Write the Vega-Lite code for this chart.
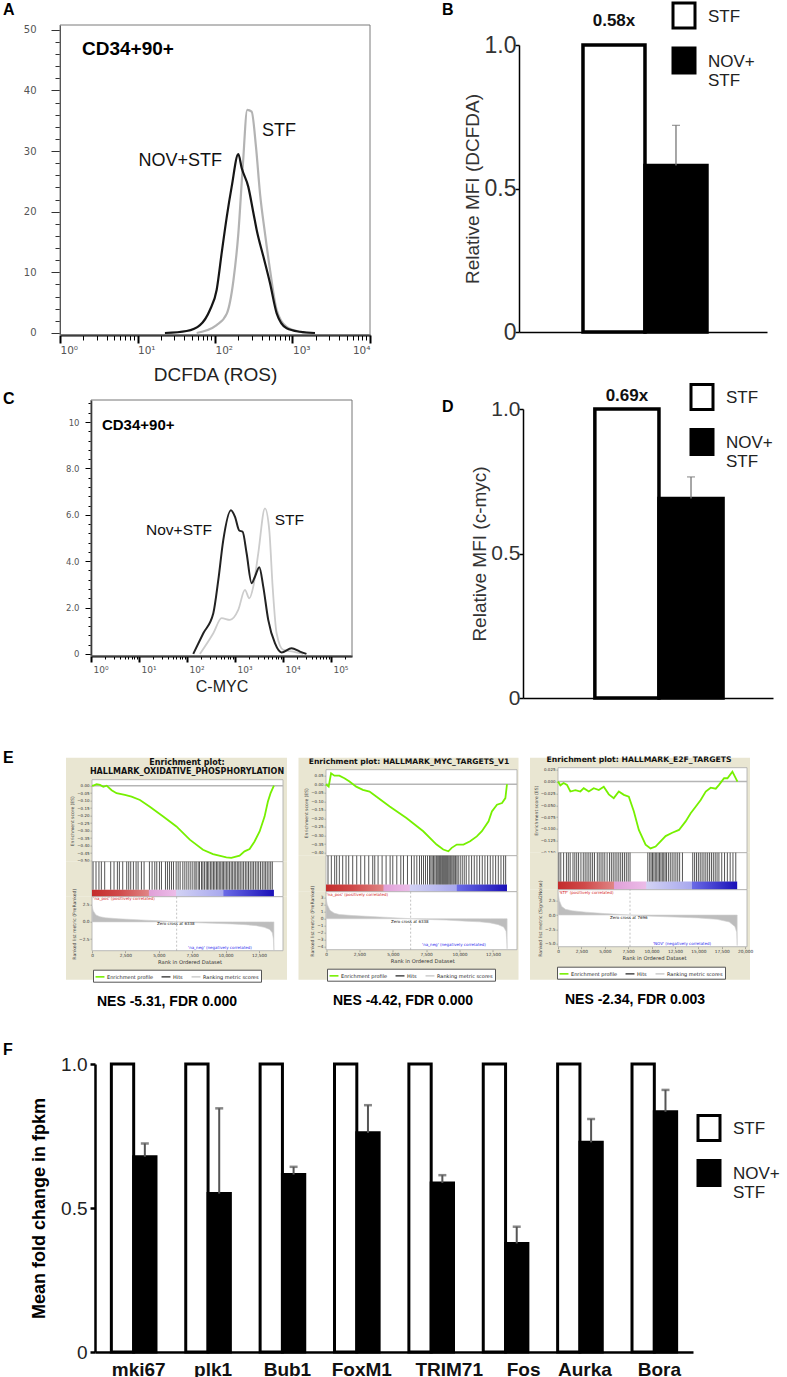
{
"$schema": "https://vega.github.io/schema/vega-lite/v6.json",
"padding": {"left": 3, "top": 0, "right": 0, "bottom": 0},
"background": "white",
"config": {
  "view": {"stroke": null},
  "font": "Liberation Sans",
  "axis": {"grid": false, "labelFont": "Liberation Sans", "titleFont": "Liberation Sans", "titleFontWeight": "normal", "domainColor": "#000", "tickColor": "#000", "labelColor": "#333", "titleColor": "#222", "labelOverlap": false},
  "title": {"font": "Liberation Sans", "fontWeight": "bold", "fontSize": 16, "color": "#000", "anchor": "start", "frame": "group", "baseline": "alphabetic"},
  "legend": {"labelFont": "Liberation Sans"}
},
"datasets": {
  "flowA": [
    {"sample":"NOV+STF","intensity":22.6,"count":0},{"sample":"NOV+STF","intensity":43,"count":0.33},{"sample":"NOV+STF","intensity":64,"count":1.3},{"sample":"NOV+STF","intensity":86,"count":3.8},{"sample":"NOV+STF","intensity":105,"count":7.1},{"sample":"NOV+STF","intensity":122,"count":13.2},{"sample":"NOV+STF","intensity":142,"count":19.2},{"sample":"NOV+STF","intensity":164,"count":24.1},{"sample":"NOV+STF","intensity":200,"count":29.5},{"sample":"NOV+STF","intensity":221,"count":27.2},{"sample":"NOV+STF","intensity":269,"count":24.1},{"sample":"NOV+STF","intensity":313,"count":19.8},{"sample":"NOV+STF","intensity":345,"count":17.0},{"sample":"NOV+STF","intensity":421,"count":12.6},{"sample":"NOV+STF","intensity":513,"count":8.2},{"sample":"NOV+STF","intensity":625,"count":3.25},{"sample":"NOV+STF","intensity":841,"count":0.77},{"sample":"NOV+STF","intensity":1250,"count":0.2},{"sample":"NOV+STF","intensity":1950,"count":0},
    {"sample":"STF","intensity":58,"count":0},{"sample":"STF","intensity":105,"count":1.3},{"sample":"STF","intensity":142,"count":3.2},{"sample":"STF","intensity":173,"count":8.7},{"sample":"STF","intensity":200,"count":16.4},{"sample":"STF","intensity":228,"count":27.4},{"sample":"STF","intensity":261,"count":36.8},{"sample":"STF","intensity":297,"count":36.5},{"sample":"STF","intensity":338,"count":30.7},{"sample":"STF","intensity":381,"count":23},{"sample":"STF","intensity":442,"count":16.4},{"sample":"STF","intensity":513,"count":10.4},{"sample":"STF","intensity":625,"count":3.8},{"sample":"STF","intensity":841,"count":1.0},{"sample":"STF","intensity":1250,"count":0.2},{"sample":"STF","intensity":1860,"count":0}
  ],
  "flowC": [
    {"sample":"NOV+STF","intensity":135,"count":0},{"sample":"NOV+STF","intensity":219,"count":0.89},{"sample":"NOV+STF","intensity":354,"count":1.75},{"sample":"NOV+STF","intensity":450,"count":3.19},{"sample":"NOV+STF","intensity":571,"count":4.91},{"sample":"NOV+STF","intensity":826,"count":6.2},{"sample":"NOV+STF","intensity":1000,"count":5.92},{"sample":"NOV+STF","intensity":1230,"count":5.32},{"sample":"NOV+STF","intensity":1445,"count":5.27},{"sample":"NOV+STF","intensity":1750,"count":4.34},{"sample":"NOV+STF","intensity":2225,"count":3.05},{"sample":"NOV+STF","intensity":2610,"count":3.33},{"sample":"NOV+STF","intensity":3215,"count":3.74},{"sample":"NOV+STF","intensity":3890,"count":2.9},{"sample":"NOV+STF","intensity":4940,"count":1.47},{"sample":"NOV+STF","intensity":6810,"count":0.46},{"sample":"NOV+STF","intensity":9380,"count":0.06},{"sample":"NOV+STF","intensity":15140,"count":0.24},{"sample":"NOV+STF","intensity":22600,"count":0.1},{"sample":"NOV+STF","intensity":30900,"count":0},
    {"sample":"STF","intensity":186,"count":0},{"sample":"STF","intensity":354,"count":0.89},{"sample":"STF","intensity":527,"count":1.54},{"sample":"STF","intensity":787,"count":1.47},{"sample":"STF","intensity":1172,"count":1.9},{"sample":"STF","intensity":1615,"count":2.76},{"sample":"STF","intensity":1990,"count":2.4},{"sample":"STF","intensity":2410,"count":2.9},{"sample":"STF","intensity":3060,"count":4.34},{"sample":"STF","intensity":4220,"count":6.28},{"sample":"STF","intensity":5190,"count":5.34},{"sample":"STF","intensity":6100,"count":2.9},{"sample":"STF","intensity":7380,"count":0.89},{"sample":"STF","intensity":10160,"count":0.17},{"sample":"STF","intensity":16400,"count":0.1},{"sample":"STF","intensity":26500,"count":0}
  ],
  "mfiB": [{"treatment":"STF","mfi":1,"fold":"0.58x"},{"treatment":"NOV+STF","mfi":0.58,"upper":0.72}],
  "mfiD": [{"treatment":"STF","mfi":1,"fold":"0.69x"},{"treatment":"NOV+STF","mfi":0.69,"upper":0.765}],
  "fpkm": [
    {"gene":"mki67","treatment":"STF","value":1},{"gene":"mki67","treatment":"NOV+STF","value":0.678,"upper":0.724},
    {"gene":"plk1","treatment":"STF","value":1},{"gene":"plk1","treatment":"NOV+STF","value":0.55,"upper":0.846},
    {"gene":"Bub1","treatment":"STF","value":1},{"gene":"Bub1","treatment":"NOV+STF","value":0.616,"upper":0.643},
    {"gene":"FoxM1","treatment":"STF","value":1},{"gene":"FoxM1","treatment":"NOV+STF","value":0.761,"upper":0.857},
    {"gene":"TRIM71","treatment":"STF","value":1},{"gene":"TRIM71","treatment":"NOV+STF","value":0.587,"upper":0.614},
    {"gene":"Fos","treatment":"STF","value":1},{"gene":"Fos","treatment":"NOV+STF","value":0.377,"upper":0.435},
    {"gene":"Aurka","treatment":"STF","value":1},{"gene":"Aurka","treatment":"NOV+STF","value":0.728,"upper":0.809},
    {"gene":"Bora","treatment":"STF","value":1},{"gene":"Bora","treatment":"NOV+STF","value":0.834,"upper":0.91}
  ],
  "es1": [{"rank":0,"es":0},{"rank":100,"es":0},{"rank":350,"es":0.01},{"rank":600,"es":0.005},{"rank":850,"es":-0.007},{"rank":1100,"es":0},{"rank":1470,"es":-0.03},{"rank":1840,"es":-0.05},{"rank":2460,"es":-0.062},{"rank":2960,"es":-0.073},{"rank":3590,"es":-0.095},{"rank":4330,"es":-0.14},{"rank":5330,"es":-0.205},{"rank":6320,"es":-0.272},{"rank":7320,"es":-0.36},{"rank":8310,"es":-0.427},{"rank":9060,"es":-0.456},{"rank":10060,"es":-0.478},{"rank":10430,"es":-0.482},{"rank":11050,"es":-0.467},{"rank":11420,"es":-0.438},{"rank":11800,"es":-0.423},{"rank":12170,"es":-0.372},{"rank":12550,"es":-0.305},{"rank":12920,"es":-0.206},{"rank":13170,"es":-0.106},{"rank":13370,"es":-0.05},{"rank":13620,"es":0}],
  "es2": [{"rank":0,"es":0},{"rank":200,"es":-0.014},{"rank":380,"es":0.064},{"rank":630,"es":0.05},{"rank":1000,"es":0.05},{"rank":1380,"es":0.035},{"rank":1760,"es":0.016},{"rank":2260,"es":-0.014},{"rank":2760,"es":-0.033},{"rank":3260,"es":-0.043},{"rank":3760,"es":-0.072},{"rank":4770,"es":-0.13},{"rank":6020,"es":-0.198},{"rank":7280,"es":-0.275},{"rank":8280,"es":-0.353},{"rank":8780,"es":-0.382},{"rank":9160,"es":-0.392},{"rank":9410,"es":-0.372},{"rank":9790,"es":-0.353},{"rank":10290,"es":-0.353},{"rank":10790,"es":-0.334},{"rank":11290,"es":-0.305},{"rank":11670,"es":-0.275},{"rank":12170,"es":-0.217},{"rank":12420,"es":-0.159},{"rank":12800,"es":-0.12},{"rank":13180,"es":-0.11},{"rank":13430,"es":-0.081},{"rank":13550,"es":0}],
  "es3": [{"rank":0,"es":0},{"rank":250,"es":-0.008},{"rank":600,"es":-0.003},{"rank":960,"es":-0.007},{"rank":1320,"es":-0.021},{"rank":1860,"es":-0.018},{"rank":2390,"es":-0.021},{"rank":2750,"es":-0.014},{"rank":3290,"es":-0.021},{"rank":3820,"es":-0.014},{"rank":4360,"es":-0.018},{"rank":4890,"es":-0.011},{"rank":5430,"es":-0.027},{"rank":5960,"es":-0.035},{"rank":6500,"es":-0.021},{"rank":7040,"es":-0.028},{"rank":7570,"es":-0.032},{"rank":8110,"es":-0.063},{"rank":8640,"es":-0.102},{"rank":9360,"es":-0.133},{"rank":9890,"es":-0.141},{"rank":10430,"es":-0.137},{"rank":10960,"es":-0.126},{"rank":11500,"es":-0.115},{"rank":12210,"es":-0.108},{"rank":12930,"es":-0.102},{"rank":13640,"es":-0.084},{"rank":14180,"es":-0.067},{"rank":14710,"es":-0.053},{"rank":15250,"es":-0.039},{"rank":15790,"es":-0.021},{"rank":16320,"es":-0.013},{"rank":16860,"es":-0.015},{"rank":17210,"es":-0.007},{"rank":17750,"es":0.007},{"rank":18110,"es":0.007},{"rank":18640,"es":0.021},{"rank":19180,"es":0}],
  "hits1": [{"rank":80},{"rank":300},{"rank":520},{"rank":700},{"rank":950},{"rank":1400},{"rank":1650},{"rank":1900},{"rank":2050},{"rank":2300},{"rank":2600},{"rank":2750},{"rank":2900},{"rank":3100},{"rank":3300},{"rank":3450},{"rank":3700},{"rank":3900},{"rank":4300},{"rank":4500},{"rank":4700},{"rank":4850},{"rank":5050},{"rank":5200},{"rank":5500},{"rank":5650},{"rank":5800},{"rank":5950},{"rank":6100},{"rank":6300},{"rank":6450},{"rank":6600},{"rank":6800},{"rank":6950},{"rank":7100},{"rank":7250},{"rank":7400},{"rank":7550},{"rank":7700},{"rank":7800},{"rank":7950},{"rank":8050},{"rank":8200},{"rank":8300},{"rank":8420},{"rank":8550},{"rank":8650},{"rank":8750},{"rank":8880},{"rank":8980},{"rank":9100},{"rank":9200},{"rank":9320},{"rank":9420},{"rank":9530},{"rank":9640},{"rank":9750},{"rank":9850},{"rank":9960},{"rank":10080},{"rank":10180},{"rank":10300},{"rank":10420},{"rank":10530},{"rank":10650},{"rank":10760},{"rank":10880},{"rank":10990},{"rank":11100},{"rank":11230},{"rank":11350},{"rank":11480},{"rank":11600},{"rank":11720},{"rank":11850},{"rank":11980},{"rank":12100},{"rank":12230},{"rank":12360},{"rank":12480},{"rank":12620},{"rank":12750},{"rank":12880},{"rank":13000},{"rank":13120},{"rank":13250},{"rank":13380},{"rank":13500}],
  "hits2": [{"rank":150},{"rank":400},{"rank":650},{"rank":800},{"rank":1000},{"rank":1250},{"rank":1500},{"rank":1700},{"rank":2000},{"rank":2300},{"rank":2600},{"rank":2900},{"rank":3200},{"rank":3500},{"rank":3650},{"rank":3900},{"rank":4200},{"rank":4500},{"rank":4800},{"rank":5000},{"rank":5300},{"rank":5600},{"rank":5800},{"rank":6100},{"rank":6400},{"rank":6600},{"rank":6800},{"rank":7000},{"rank":7150},{"rank":7300},{"rank":7450},{"rank":7600},{"rank":7750},{"rank":7850},{"rank":7950},{"rank":8050},{"rank":8150},{"rank":8250},{"rank":8320},{"rank":8400},{"rank":8480},{"rank":8550},{"rank":8620},{"rank":8700},{"rank":8770},{"rank":8840},{"rank":8910},{"rank":8980},{"rank":9050},{"rank":9120},{"rank":9200},{"rank":9280},{"rank":9350},{"rank":9430},{"rank":9520},{"rank":9600},{"rank":9700},{"rank":9800},{"rank":9900},{"rank":10050},{"rank":10200},{"rank":10350},{"rank":10500},{"rank":10700},{"rank":10900},{"rank":11100},{"rank":11300},{"rank":11500},{"rank":11700},{"rank":11900},{"rank":12100},{"rank":12300},{"rank":12500},{"rank":12700},{"rank":12900},{"rank":13100},{"rank":13300},{"rank":13450}],
  "hits3": [{"rank":100},{"rank":300},{"rank":600},{"rank":900},{"rank":1100},{"rank":1300},{"rank":1600},{"rank":1800},{"rank":2000},{"rank":2200},{"rank":2450},{"rank":2700},{"rank":2900},{"rank":3100},{"rank":3300},{"rank":3500},{"rank":3700},{"rank":3900},{"rank":4200},{"rank":4400},{"rank":4600},{"rank":4800},{"rank":5000},{"rank":5250},{"rank":5500},{"rank":5700},{"rank":5900},{"rank":6100},{"rank":6300},{"rank":6500},{"rank":6700},{"rank":6900},{"rank":7100},{"rank":7300},{"rank":7500},{"rank":7700},{"rank":9600},{"rank":9800},{"rank":9950},{"rank":10100},{"rank":10250},{"rank":10400},{"rank":10550},{"rank":10700},{"rank":10850},{"rank":11000},{"rank":11150},{"rank":11300},{"rank":11450},{"rank":11600},{"rank":11800},{"rank":12000},{"rank":12200},{"rank":12400},{"rank":12600},{"rank":12800},{"rank":13000},{"rank":13300},{"rank":14400},{"rank":14600},{"rank":14800},{"rank":15000},{"rank":15200},{"rank":15400},{"rank":15600},{"rank":15800},{"rank":16000},{"rank":16200},{"rank":16400},{"rank":16600},{"rank":16800},{"rank":17000},{"rank":17200},{"rank":17500},{"rank":17800},{"rank":18100},{"rank":18400},{"rank":18700},{"rank":19000}],
  "met1": [{"rank":0,"metric":2.3},{"rank":100,"metric":1.6},{"rank":300,"metric":1.0},{"rank":600,"metric":0.75},{"rank":1000,"metric":0.6},{"rank":2000,"metric":0.45},{"rank":3000,"metric":0.35},{"rank":4000,"metric":0.25},{"rank":5000,"metric":0.15},{"rank":6338,"metric":0},{"rank":7500,"metric":-0.1},{"rank":9000,"metric":-0.2},{"rank":10500,"metric":-0.3},{"rank":11500,"metric":-0.4},{"rank":12300,"metric":-0.55},{"rank":12900,"metric":-0.8},{"rank":13300,"metric":-1.1},{"rank":13500,"metric":-1.6},{"rank":13580,"metric":-2.5},{"rank":13620,"metric":-4.1}],
  "met2": [{"rank":0,"metric":2.9},{"rank":100,"metric":2.0},{"rank":300,"metric":1.2},{"rank":600,"metric":0.8},{"rank":1000,"metric":0.6},{"rank":2000,"metric":0.45},{"rank":3000,"metric":0.35},{"rank":4000,"metric":0.25},{"rank":5000,"metric":0.15},{"rank":6338,"metric":0},{"rank":7500,"metric":-0.1},{"rank":9000,"metric":-0.2},{"rank":10500,"metric":-0.35},{"rank":11500,"metric":-0.45},{"rank":12300,"metric":-0.6},{"rank":12900,"metric":-0.85},{"rank":13300,"metric":-1.2},{"rank":13480,"metric":-1.8},{"rank":13530,"metric":-3.0},{"rank":13560,"metric":-4.3}],
  "met3": [{"rank":0,"metric":4.0},{"rank":150,"metric":2.5},{"rank":400,"metric":1.5},{"rank":800,"metric":1.0},{"rank":1500,"metric":0.75},{"rank":3000,"metric":0.5},{"rank":5000,"metric":0.25},{"rank":7696,"metric":0},{"rank":10000,"metric":-0.2},{"rank":12500,"metric":-0.35},{"rank":15000,"metric":-0.5},{"rank":17000,"metric":-0.75},{"rank":18300,"metric":-1.2},{"rank":18900,"metric":-2.0},{"rank":19100,"metric":-3.0},{"rank":19150,"metric":-5.3}],
  "ann1": [{"rank":100,"metric":3.3,"label":"'na_pos' (positively correlated)","side":"pos"},{"rank":4870,"metric":-0.3,"label":"Zero cross at 6338","side":"zero"},{"rank":7190,"metric":-3.8,"label":"'na_neg' (negatively correlated)","side":"neg"}],
  "ann2": [{"rank":50,"metric":3.4,"label":"'na_pos' (positively correlated)","side":"pos"},{"rank":4870,"metric":-0.43,"label":"Zero cross at 6338","side":"zero"},{"rank":7190,"metric":-3.7,"label":"'na_neg' (negatively correlated)","side":"neg"}],
  "ann3": [{"rank":100,"metric":3.9,"label":"'STF' (positively correlated)","side":"pos"},{"rank":5560,"metric":-0.47,"label":"Zero cross at 7696","side":"zero"},{"rank":10150,"metric":-5.0,"label":"'NOV' (negatively correlated)","side":"neg"}]
},
"spacing": 30,
"resolve": {"scale": {"fill": "independent", "stroke": "independent", "color": "independent"}},
"vconcat": [
 {
  "spacing": 41.7,
  "resolve": {"scale": {"fill": "independent", "stroke": "independent", "color": "independent"}},
  "vconcat": [
   {
    "spacing": 66,
    "resolve": {"scale": {"fill": "independent", "stroke": "independent", "color": "independent"}},
    "hconcat": [
     {
      "bounds": "flush", "spacing": 65,
      "vconcat": [
       {
        "width": 304, "height": 335,
        "title": {"text": "A", "dx": -63, "offset": -18},
        "data": {"name": "flowA"},
        "layer": [
         {
          "transform": [{"filter": "datum.sample == 'STF'"}],
          "mark": {"type": "line", "interpolate": "monotone", "color": "#b3b3b3", "strokeWidth": 2.2},
          "encoding": {
           "x": {"field": "intensity", "type": "quantitative", "scale": {"type": "log", "domain": [1, 10000], "range": [-6, 304], "nice": false},
                 "axis": {"values": [1,2,3,4,5,6,7,8,9,10,20,30,40,50,60,70,80,90,100,200,300,400,500,600,700,800,900,1000,2000,3000,4000,5000,6000,7000,8000,9000,10000], "tickCount": 200,
                          "labelExpr": "datum.value == 1 ? '10⁰' : datum.value == 10 ? '10¹' : datum.value == 100 ? '10²' : datum.value == 1000 ? '10³' : datum.value == 10000 ? '10⁴' : ''",
                          "labelAlign": {"condition": {"test": "datum.value == 10000", "value": "right"}, "value": "left"},
                          "tickSize": {"condition": {"test": "indexof([1,10,100,1000,10000], datum.value) >= 0", "value": 8}, "value": 5},
                          "tickWidth": {"condition": {"test": "indexof([1,10,100,1000,10000], datum.value) >= 0", "value": 2}, "value": 1},
                          "domainWidth": 2, "labelFont": "DejaVu Sans", "labelFontSize": 10.5, "labelColor": "#555", "labelPadding": 2, "labelFlush": false, "labelOverlap": false,
                          "title": "DCFDA (ROS)", "titleFontSize": 19, "titleColor": "#222", "titlePadding": 10}},
           "y": {"field": "count", "type": "quantitative", "scale": {"domain": [-0.33, 50.8], "range": [335, 25], "nice": false, "zero": false},
                 "axis": {"values": [0,2,4,6,8,10,12,14,16,18,20,22,24,26,28,30,32,34,36,38,40,42,44,46,48,50], "tickCount": 200,
                          "offset": 6, "labelOverlap": false,
                          "labelExpr": "datum.value % 10 == 0 ? format(datum.value, 'd') : ''",
                          "tickSize": {"condition": {"test": "datum.value % 10 == 0", "value": 9}, "value": 5},
                          "tickColor": "#333", "domainColor": "#333", "labelFont": "DejaVu Sans", "labelFontSize": 10, "labelColor": "#555", "labelPadding": 15, "title": null}}
          }
         },
         {
          "transform": [{"filter": "datum.sample == 'NOV+STF'"}],
          "mark": {"type": "line", "interpolate": "monotone", "color": "#161616", "strokeWidth": 2.2},
          "encoding": {"x": {"field": "intensity", "type": "quantitative"}, "y": {"field": "count", "type": "quantitative"}}
         },
         {
          "data": {"values": [{}]},
          "mark": {"type": "rect", "filled": false, "color": "#7a7a7a", "strokeWidth": 1},
          "encoding": {"x": {"datum": 1, "type": "quantitative"}, "x2": {"datum": 10000}, "y": {"datum": -0.33, "type": "quantitative"}, "y2": {"datum": 50.8}}
         },
         {
          "data": {"values": [{"intensity": 1.92, "count": 46.9, "label": "CD34+90+"}]},
          "mark": {"type": "text", "align": "left", "baseline": "middle", "fontSize": 19, "fontWeight": "bold", "color": "#000"},
          "encoding": {"x": {"field": "intensity", "type": "quantitative"}, "y": {"field": "count", "type": "quantitative"}, "text": {"field": "label"}}
         },
         {
          "data": {"values": [{"intensity": 123, "count": 28.4, "label": "NOV+STF"}]},
          "mark": {"type": "text", "align": "right", "baseline": "middle", "fontSize": 18, "color": "#111"},
          "encoding": {"x": {"field": "intensity", "type": "quantitative"}, "y": {"field": "count", "type": "quantitative"}, "text": {"field": "label"}}
         },
         {
          "data": {"values": [{"intensity": 404, "count": 33.3, "label": "STF"}]},
          "mark": {"type": "text", "align": "left", "baseline": "middle", "fontSize": 18, "color": "#111"},
          "encoding": {"x": {"field": "intensity", "type": "quantitative"}, "y": {"field": "count", "type": "quantitative"}, "text": {"field": "label"}}
         }
        ]
       },
       {
        "width": 286, "height": 256,
        "title": {"text": "C", "dx": -63, "offset": -8},
        "data": {"name": "flowC"},
        "layer": [
         {
          "transform": [{"filter": "datum.sample == 'STF'"}],
          "mark": {"type": "line", "interpolate": "monotone", "color": "#cccccc", "strokeWidth": 1.8},
          "encoding": {
           "x": {"field": "intensity", "type": "quantitative", "scale": {"type": "log", "domain": [1, 275000], "range": [25, 286], "nice": false},
                 "axis": {"values": [1,2,3,4,5,6,7,8,9,10,20,30,40,50,60,70,80,90,100,200,300,400,500,600,700,800,900,1000,2000,3000,4000,5000,6000,7000,8000,9000,10000,20000,30000,40000,50000,60000,70000,80000,90000,100000,200000], "tickCount": 200,
                          "labelExpr": "datum.value == 1 ? '10⁰' : datum.value == 10 ? '10¹' : datum.value == 100 ? '10²' : datum.value == 1000 ? '10³' : datum.value == 10000 ? '10⁴' : datum.value == 100000 ? '10⁵' : ''",
                          "labelAlign": "left", "labelOffset": 2, "labelOverlap": false,
                          "tickSize": {"condition": {"test": "indexof([1,10,100,1000,10000,100000], datum.value) >= 0", "value": 6}, "value": 3},
                          "tickWidth": {"condition": {"test": "indexof([1,10,100,1000,10000,100000], datum.value) >= 0", "value": 2}, "value": 1},
                          "domainWidth": 2, "labelFont": "DejaVu Sans", "labelFontSize": 9, "labelColor": "#555", "labelPadding": 3, "labelFlush": false,
                          "title": "C-MYC", "titleFontSize": 16, "titleColor": "#222", "titlePadding": 4}},
           "y": {"field": "count", "type": "quantitative", "scale": {"domain": [-0.09, 10.95], "nice": false, "zero": false},
                 "axis": {"values": [0,0.4,0.8,1.2,1.6,2,2.4,2.8,3.2,3.6,4,4.4,4.8,5.2,5.6,6,6.4,6.8,7.2,7.6,8,8.4,8.8,9.2,9.6,10,10.4,10.8], "tickCount": 200,
                          "offset": -25, "labelOverlap": false,
                          "labelExpr": "datum.value == 0 ? '0' : datum.value == 10 ? '10' : (datum.value == 2 || datum.value == 4 || datum.value == 6 || datum.value == 8) ? format(datum.value, '.1f') : ''",
                          "tickSize": {"condition": {"test": "datum.value == 0 || datum.value == 2 || datum.value == 4 || datum.value == 6 || datum.value == 8 || datum.value == 10", "value": 6}, "value": 3},
                          "domainWidth": 1.5, "labelFont": "DejaVu Sans", "labelFontSize": 8.5, "labelColor": "#555", "labelPadding": 6, "title": null}}
          }
         },
         {
          "transform": [{"filter": "datum.sample == 'NOV+STF'"}],
          "mark": {"type": "line", "interpolate": "monotone", "color": "#222222", "strokeWidth": 2},
          "encoding": {"x": {"field": "intensity", "type": "quantitative"}, "y": {"field": "count", "type": "quantitative"}}
         },
         {
          "data": {"values": [{}]},
          "mark": {"type": "rect", "filled": false, "color": "#777", "strokeWidth": 1},
          "encoding": {"x": {"datum": 1, "type": "quantitative"}, "x2": {"datum": 275000}, "y": {"datum": -0.09, "type": "quantitative"}, "y2": {"datum": 10.95}}
         },
         {
          "data": {"values": [{"intensity": 1.69, "count": 9.87, "label": "CD34+90+"}]},
          "mark": {"type": "text", "align": "left", "baseline": "middle", "fontSize": 15, "fontWeight": "bold", "color": "#000"},
          "encoding": {"x": {"field": "intensity", "type": "quantitative"}, "y": {"field": "count", "type": "quantitative"}, "text": {"field": "label"}}
         },
         {
          "data": {"values": [{"intensity": 331, "count": 5.34, "label": "Nov+STF"}]},
          "mark": {"type": "text", "align": "right", "baseline": "middle", "fontSize": 15.5, "color": "#111"},
          "encoding": {"x": {"field": "intensity", "type": "quantitative"}, "y": {"field": "count", "type": "quantitative"}, "text": {"field": "label"}}
         },
         {
          "data": {"values": [{"intensity": 6761, "count": 5.78, "label": "STF"}]},
          "mark": {"type": "text", "align": "left", "baseline": "middle", "fontSize": 15.5, "color": "#111"},
          "encoding": {"x": {"field": "intensity", "type": "quantitative"}, "y": {"field": "count", "type": "quantitative"}, "text": {"field": "label"}}
         }
        ]
       }
      ]
     },
     {
      "bounds": "flush", "spacing": 68,
      "resolve": {"scale": {"fill": "independent"}},
      "vconcat": [
       {
        "width": 248, "height": 332,
        "title": {"text": "B", "dx": -77, "offset": -18},
        "data": {"name": "mfiB"},
        "layer": [
         {
          "mark": {"type": "bar", "stroke": "#000", "strokeWidth": 3.5},
          "encoding": {
           "x": {"field": "treatment", "type": "nominal", "sort": null, "scale": {"domain": ["STF","NOV+STF"], "paddingInner": 0, "paddingOuter": 1.03, "align": 0.516}, "axis": {"title": null, "labels": false, "ticks": false, "domainWidth": 1.5, "domainColor": "#000"}},
           "y": {"field": "mfi", "type": "quantitative", "scale": {"domain": [0, 1], "range": [332, 45], "nice": false},
                 "axis": {"values": [0, 0.5, 1], "tickCount": 200, "labelOverlap": false, "labelExpr": "datum.value == 0 ? '0' : format(datum.value, '.1f')", "labelFontSize": 23, "labelColor": "#333", "tickSize": 4, "tickWidth": 1.5, "domainWidth": 1.5, "labelPadding": -1, "title": "Relative MFI (DCFDA)", "titleFontSize": 19, "titleColor": "#333", "titlePadding": 2}},
           "fill": {"field": "treatment", "type": "nominal", "scale": {"domain": ["STF","NOV+STF"], "range": ["#ffffff","#000000"]},
                    "legend": {"orient": "none", "legendX": 151, "legendY": 1.5, "title": null, "direction": "vertical", "symbolType": "M-0.88,-1H0.88V1H-0.88Z", "symbolSize": 625, "symbolStrokeColor": "#000", "symbolStrokeWidth": 3, "labelFontSize": 17, "labelColor": "#222", "labelOffset": 10, "rowPadding": 7, "labelBaseline": "alphabetic", "labelExpr": "datum.label == 'NOV+STF' ? ['NOV+', '\u00a0\u00a0STF'] : datum.label", "padding": 0, "encode": {"labels": {"update": {"dy": {"value": 6}}}}}}
          }
         },
         {
          "transform": [{"filter": "datum.upper != null"}],
          "mark": {"type": "rule", "color": "#777", "strokeWidth": 1.3},
          "encoding": {"x": {"field": "treatment", "type": "nominal", "sort": null}, "y": {"field": "mfi", "type": "quantitative"}, "y2": {"field": "upper"}}
         },
         {
          "transform": [{"filter": "datum.upper != null"}],
          "mark": {"type": "tick", "color": "#777", "thickness": 1.3, "size": 8},
          "encoding": {"x": {"field": "treatment", "type": "nominal", "sort": null}, "y": {"field": "upper", "type": "quantitative"}}
         },
         {
          "transform": [{"filter": "datum.fold != null"}],
          "mark": {"type": "text", "fontWeight": "bold", "fontSize": 17, "dy": -24, "baseline": "middle", "color": "#111"},
          "encoding": {"x": {"field": "treatment", "type": "nominal", "sort": null}, "y": {"field": "mfi", "type": "quantitative"}, "text": {"field": "fold"}}
         }
        ]
       },
       {
        "width": 254, "height": 298,
        "title": {"text": "D", "dx": -77, "offset": -31.5},
        "data": {"name": "mfiD"},
        "layer": [
         {
          "mark": {"type": "bar", "stroke": "#000", "strokeWidth": 3.5},
          "encoding": {
           "x": {"field": "treatment", "type": "nominal", "sort": null, "scale": {"domain": ["STF","NOV+STF"], "range": [4, 254], "paddingInner": 0, "paddingOuter": 0.95, "align": 0.59}, "axis": {"title": null, "labels": false, "ticks": false, "domainWidth": 1.5, "domainColor": "#000"}},
           "y": {"field": "mfi", "type": "quantitative", "scale": {"domain": [0, 1], "range": [298, 9], "nice": false},
                 "axis": {"values": [0, 0.5, 1], "tickCount": 200, "labelOverlap": false, "offset": -4, "labelExpr": "datum.value == 0 ? '0' : format(datum.value, '.1f')", "labelFontSize": 21, "labelColor": "#333", "tickSize": 4, "tickWidth": 1.5, "domainWidth": 1.5, "labelPadding": -1, "title": "Relative MFI (c-myc)", "titleFontSize": 19, "titleColor": "#333", "titlePadding": 1}},
           "fill": {"field": "treatment", "type": "nominal", "scale": {"domain": ["STF","NOV+STF"], "range": ["#ffffff","#000000"]},
                    "legend": {"orient": "none", "legendX": 169, "legendY": -17, "title": null, "direction": "vertical", "symbolType": "M-0.88,-1H0.88V1H-0.88Z", "symbolSize": 625, "symbolStrokeColor": "#000", "symbolStrokeWidth": 3, "labelFontSize": 17, "labelColor": "#222", "labelOffset": 10, "rowPadding": 7, "labelBaseline": "alphabetic", "labelExpr": "datum.label == 'NOV+STF' ? ['NOV+', '\u00a0\u00a0STF'] : datum.label", "padding": 0, "encode": {"labels": {"update": {"dy": {"value": 6}}}}}}
          }
         },
         {
          "transform": [{"filter": "datum.upper != null"}],
          "mark": {"type": "rule", "color": "#777", "strokeWidth": 1.3},
          "encoding": {"x": {"field": "treatment", "type": "nominal", "sort": null}, "y": {"field": "mfi", "type": "quantitative"}, "y2": {"field": "upper"}}
         },
         {
          "transform": [{"filter": "datum.upper != null"}],
          "mark": {"type": "tick", "color": "#777", "thickness": 1.3, "size": 8},
          "encoding": {"x": {"field": "treatment", "type": "nominal", "sort": null}, "y": {"field": "upper", "type": "quantitative"}}
         },
         {
          "transform": [{"filter": "datum.fold != null"}],
          "mark": {"type": "text", "fontWeight": "bold", "fontSize": 17, "dy": -13, "baseline": "middle", "color": "#111"},
          "encoding": {"x": {"field": "treatment", "type": "nominal", "sort": null}, "y": {"field": "mfi", "type": "quantitative"}, "text": {"field": "fold"}}
         }
        ]
       }
      ]
     }
    ]
   },
   {
    "spacing": 11.5,
    "title": {"text": "E", "dx": -63, "offset": -10},
    "resolve": {"scale": {"fill": "independent", "stroke": "independent", "color": "independent"}},
    "hconcat": [
     {
      "bounds": "flush", "spacing": 0,
      "title": {"text": "NES -5.31, FDR 0.000", "orient": "bottom", "anchor": "start", "baseline": "top", "fontSize": 14, "offset": 13, "dx": 31},
      "resolve": {"scale": {"stroke": "independent", "color": "independent"}},
      "vconcat": [
       {
        "width": 221, "height": 104,
        "view": {"fill": "#e9e6d2"},
        "title": {"text": ["Enrichment plot:", "HALLMARK_OXIDATIVE_PHOSPHORYLATION"], "anchor": "middle", "font": "DejaVu Sans", "fontSize": 8, "lineHeight": 9, "offset": -18, "dx": 10.5, "color": "#111"},
        "layer": [
         {"data": {"values": [{}]}, "mark": {"type": "rect", "fill": "#ffffff", "stroke": "#aaa", "strokeWidth": 0.8},
          "encoding": {
           "x": {"datum": 0, "type": "quantitative", "scale": {"domain": [0, 14599.5], "range": [26, 221], "nice": false, "zero": false}, "axis": null},
           "x2": {"datum": 14300},
           "y": {"datum": -0.507, "type": "quantitative", "scale": {"domain": [-0.507, 0.04], "range": [104, 22], "nice": false, "zero": false},
                 "axis": {"values": [0,-0.05,-0.1,-0.15,-0.2,-0.25,-0.3,-0.35,-0.4,-0.45,-0.5], "tickCount": 200, "labelOverlap": false, "labelExpr": "format(datum.value, '.2f')", "offset": -26, "labelFont": "DejaVu Sans", "labelFontSize": 4, "labelColor": "#333", "tickSize": 2, "tickColor": "#666", "tickWidth": 0.5, "domain": false, "labelPadding": 1, "title": "Enrichment score (ES)", "titleFont": "DejaVu Sans", "titleFontSize": 4.5, "titleColor": "#444", "titlePadding": 2}},
           "y2": {"datum": 0.04}}},
         {"data": {"values": [{}]}, "mark": {"type": "rule", "color": "#b5b5b5", "strokeWidth": 1.5},
          "encoding": {"x": {"datum": 0, "type": "quantitative", "axis": null}, "x2": {"datum": 14300}, "y": {"datum": 0, "type": "quantitative"}}},
         {"data": {"name": "es1"}, "mark": {"type": "line", "color": "#76f000", "strokeWidth": 1.8},
          "encoding": {"x": {"field": "rank", "type": "quantitative", "axis": null}, "y": {"field": "es", "type": "quantitative"}}}
        ]
       },
       {
        "width": 221, "height": 35,
        "view": {"fill": "#e9e6d2"},
        "layer": [
         {"data": {"values": [{}]}, "mark": {"type": "rect", "fill": "#ffffff", "stroke": "#aaa", "strokeWidth": 0.8},
          "encoding": {
           "x": {"datum": 0, "type": "quantitative", "scale": {"domain": [0, 14599.5], "range": [26, 221], "nice": false, "zero": false}, "axis": null},
           "x2": {"datum": 14300},
           "y": {"datum": 0, "type": "quantitative", "scale": {"domain": [0, 1], "nice": false}, "axis": null},
           "y2": {"datum": 1}}},
         {"data": {"values": [{}]}, "mark": {"type": "rect", "fill": {"gradient": "linear", "x1": 0, "y1": 0, "x2": 1, "y2": 0, "stops": [{"offset": 0, "color": "#c42c2c"}, {"offset": 0.15, "color": "#d04a4a"}, {"offset": 0.31, "color": "#e08484"}, {"offset": 0.315, "color": "#e0a0d8"}, {"offset": 0.46, "color": "#ecbce8"}, {"offset": 0.465, "color": "#d2d2f4"}, {"offset": 0.72, "color": "#a8a8ee"}, {"offset": 0.725, "color": "#6a6ae6"}, {"offset": 1, "color": "#1a10b8"}]}},
          "encoding": {"x": {"datum": 0, "type": "quantitative", "axis": null}, "x2": {"datum": 13620}, "y": {"datum": 0, "type": "quantitative", "axis": null}, "y2": {"datum": 0.2}}},
         {"data": {"name": "hits1"}, "mark": {"type": "rule", "color": "#000", "strokeWidth": 0.9, "opacity": 0.75},
          "encoding": {"x": {"field": "rank", "type": "quantitative", "axis": null}, "y": {"datum": 0.2, "type": "quantitative", "axis": null}, "y2": {"datum": 1}}}
        ]
       },
       {
        "width": 221, "height": 83,
        "view": {"fill": "#e9e6d2"},
        "layer": [
         {"data": {"values": [{}]}, "mark": {"type": "rect", "fill": "#ffffff", "stroke": "#aaa", "strokeWidth": 0.8},
          "encoding": {
           "x": {"datum": 0, "type": "quantitative", "scale": {"domain": [0, 14599.5], "range": [26, 221], "nice": false, "zero": false},
                 "axis": {"values": [0,2500,5000,7500,10000,12500], "tickCount": 200, "labelOverlap": false, "labelExpr": "format(datum.value, ',')", "offset": -29, "labelFont": "DejaVu Sans", "labelFontSize": 4.3, "labelColor": "#333", "tickSize": 2, "tickColor": "#666", "tickWidth": 0.5, "domain": false, "labelPadding": 1, "labelFlush": false, "title": "Rank in Ordered Dataset", "titleFont": "DejaVu Sans", "titleFontSize": 5.2, "titleColor": "#333", "titlePadding": 1.5}},
           "x2": {"datum": 14300},
           "y": {"datum": -4.2, "type": "quantitative", "scale": {"domain": [-8.426, 3.67], "nice": false, "zero": false},
                 "axis": {"values": [2.5, 0, -2.5], "tickCount": 200, "labelOverlap": false, "labelExpr": "format(datum.value, '.1f')", "offset": -26, "labelFont": "DejaVu Sans", "labelFontSize": 4.3, "labelColor": "#333", "tickSize": 2, "tickColor": "#666", "tickWidth": 0.5, "domain": false, "labelPadding": 1, "title": "Ranked list metric (PreRanked)", "titleY": 27, "titleFont": "DejaVu Sans", "titleFontSize": 4.6, "titleColor": "#444", "titlePadding": 2}},
           "y2": {"datum": 3.67}}},
         {"data": {"values": [{}]}, "mark": {"type": "rule", "color": "#999", "strokeWidth": 0.6, "strokeDash": [2, 2]},
          "encoding": {"x": {"datum": 6338, "type": "quantitative"}, "y": {"datum": -4.2, "type": "quantitative"}, "y2": {"datum": 3.67}}},
         {"data": {"name": "met1"}, "mark": {"type": "area", "fill": "#bdbdbd", "strokeWidth": 0.6},
          "encoding": {"x": {"field": "rank", "type": "quantitative"}, "y": {"field": "metric", "type": "quantitative"},
           "stroke": {"datum": "Ranking metric scores", "type": "nominal", "scale": {"domain": ["Enrichment profile", "Hits", "Ranking metric scores"], "range": ["#76f000", "#555555", "#d0d0d0"]},
                      "legend": {"orient": "none", "legendX": 27, "legendY": 73, "direction": "horizontal", "title": null, "symbolType": "stroke", "symbolSize": 80, "symbolStrokeWidth": 1.6, "labelFont": "DejaVu Sans", "labelFontSize": 5, "labelColor": "#222", "labelOffset": 1.5, "columnPadding": 4, "strokeColor": "#555", "padding": 1.5, "fillColor": "#ffffff"}}}},
         {"data": {"name": "ann1"}, "mark": {"type": "text", "align": "left", "baseline": "middle", "font": "DejaVu Sans", "fontSize": 4},
          "encoding": {"x": {"field": "rank", "type": "quantitative"}, "y": {"field": "metric", "type": "quantitative"}, "text": {"field": "label"},
           "color": {"field": "side", "type": "nominal", "scale": {"domain": ["pos", "zero", "neg"], "range": ["#d42424", "#111111", "#2a2aee"]}, "legend": null}}}
        ]
       }
      ]
     },
     {
      "bounds": "flush", "spacing": 0,
      "title": {"text": "NES -4.42, FDR 0.000", "orient": "bottom", "anchor": "start", "baseline": "top", "fontSize": 14, "offset": 13, "dx": 34.5},
      "resolve": {"scale": {"stroke": "independent", "color": "independent"}},
      "vconcat": [
       {
        "width": 220, "height": 98,
        "view": {"fill": "#e9e6d2"},
        "title": {"text": "Enrichment plot: HALLMARK_MYC_TARGETS_V1", "anchor": "middle", "font": "DejaVu Sans", "fontSize": 7.6, "offset": -8, "dx": 0.5, "color": "#111"},
        "layer": [
         {"data": {"values": [{}]}, "mark": {"type": "rect", "fill": "#ffffff", "stroke": "#aaa", "strokeWidth": 0.8},
          "encoding": {
           "x": {"datum": 0, "type": "quantitative", "scale": {"domain": [0, 14412.3], "range": [27.5, 220], "nice": false, "zero": false}, "axis": null},
           "x2": {"datum": 14300},
           "y": {"datum": -0.418, "type": "quantitative", "scale": {"domain": [-0.418, 0.085], "range": [98, 12], "nice": false, "zero": false},
                 "axis": {"values": [0.05,0,-0.05,-0.1,-0.15,-0.2,-0.25,-0.3,-0.35,-0.4], "tickCount": 200, "labelOverlap": false, "labelExpr": "format(datum.value, '.2f')", "offset": -27.5, "labelFont": "DejaVu Sans", "labelFontSize": 4, "labelColor": "#333", "tickSize": 2, "tickColor": "#666", "tickWidth": 0.5, "domain": false, "labelPadding": 1, "title": "Enrichment score (ES)", "titleFont": "DejaVu Sans", "titleFontSize": 4.5, "titleColor": "#444", "titlePadding": 2}},
           "y2": {"datum": 0.085}}},
         {"data": {"values": [{}]}, "mark": {"type": "rule", "color": "#b5b5b5", "strokeWidth": 1.5},
          "encoding": {"x": {"datum": 0, "type": "quantitative", "axis": null}, "x2": {"datum": 14300}, "y": {"datum": 0, "type": "quantitative"}}},
         {"data": {"name": "es2"}, "mark": {"type": "line", "color": "#76f000", "strokeWidth": 1.8},
          "encoding": {"x": {"field": "rank", "type": "quantitative", "axis": null}, "y": {"field": "es", "type": "quantitative"}}}
        ]
       },
       {
        "width": 220, "height": 36,
        "view": {"fill": "#e9e6d2"},
        "layer": [
         {"data": {"values": [{}]}, "mark": {"type": "rect", "fill": "#ffffff", "stroke": "#aaa", "strokeWidth": 0.8},
          "encoding": {
           "x": {"datum": 0, "type": "quantitative", "scale": {"domain": [0, 14412.3], "range": [27.5, 220], "nice": false, "zero": false}, "axis": null},
           "x2": {"datum": 14300},
           "y": {"datum": 0, "type": "quantitative", "scale": {"domain": [0, 1], "nice": false}, "axis": null},
           "y2": {"datum": 1}}},
         {"data": {"values": [{}]}, "mark": {"type": "rect", "fill": {"gradient": "linear", "x1": 0, "y1": 0, "x2": 1, "y2": 0, "stops": [{"offset": 0, "color": "#c42c2c"}, {"offset": 0.15, "color": "#d04a4a"}, {"offset": 0.315, "color": "#e08484"}, {"offset": 0.32, "color": "#e0a0d8"}, {"offset": 0.46, "color": "#ecbce8"}, {"offset": 0.465, "color": "#d2d2f4"}, {"offset": 0.72, "color": "#a8a8ee"}, {"offset": 0.725, "color": "#6a6ae6"}, {"offset": 1, "color": "#1a10b8"}]}},
          "encoding": {"x": {"datum": 0, "type": "quantitative", "axis": null}, "x2": {"datum": 13550}, "y": {"datum": 0, "type": "quantitative", "axis": null}, "y2": {"datum": 0.2}}},
         {"data": {"name": "hits2"}, "mark": {"type": "rule", "color": "#000", "strokeWidth": 0.9, "opacity": 0.75},
          "encoding": {"x": {"field": "rank", "type": "quantitative", "axis": null}, "y": {"datum": 0.2, "type": "quantitative", "axis": null}, "y2": {"datum": 1}}}
        ]
       },
       {
        "width": 220, "height": 88,
        "view": {"fill": "#e9e6d2"},
        "layer": [
         {"data": {"values": [{}]}, "mark": {"type": "rect", "fill": "#ffffff", "stroke": "#aaa", "strokeWidth": 0.8},
          "encoding": {
           "x": {"datum": 0, "type": "quantitative", "scale": {"domain": [0, 14412.3], "range": [27.5, 220], "nice": false, "zero": false},
                 "axis": {"values": [0,2500,5000,7500,10000,12500], "tickCount": 200, "labelOverlap": false, "labelExpr": "format(datum.value, ',')", "offset": -30, "labelFont": "DejaVu Sans", "labelFontSize": 4.3, "labelColor": "#333", "tickSize": 2, "tickColor": "#666", "tickWidth": 0.5, "domain": false, "labelPadding": 1, "labelFlush": false, "title": "Rank in Ordered Dataset", "titleFont": "DejaVu Sans", "titleFontSize": 5.2, "titleColor": "#333", "titlePadding": 1.5}},
           "x2": {"datum": 14300},
           "y": {"datum": -4.43, "type": "quantitative", "scale": {"domain": [-8.718, 3.86], "nice": false, "zero": false},
                 "axis": {"values": [3,2,1,0,-1,-2,-3,-4], "tickCount": 200, "labelOverlap": false, "labelExpr": "format(datum.value, 'd')", "offset": -27.5, "labelFont": "DejaVu Sans", "labelFontSize": 4.3, "labelColor": "#333", "tickSize": 2, "tickColor": "#666", "tickWidth": 0.5, "domain": false, "labelPadding": 1, "title": "Ranked list metric (PreRanked)", "titleY": 29, "titleFont": "DejaVu Sans", "titleFontSize": 4.6, "titleColor": "#444", "titlePadding": 2}},
           "y2": {"datum": 3.86}}},
         {"data": {"values": [{}]}, "mark": {"type": "rule", "color": "#999", "strokeWidth": 0.6, "strokeDash": [2, 2]},
          "encoding": {"x": {"datum": 6338, "type": "quantitative"}, "y": {"datum": -4.43, "type": "quantitative"}, "y2": {"datum": 3.86}}},
         {"data": {"name": "met2"}, "mark": {"type": "area", "fill": "#bdbdbd", "strokeWidth": 0.6},
          "encoding": {"x": {"field": "rank", "type": "quantitative"}, "y": {"field": "metric", "type": "quantitative"},
           "stroke": {"datum": "Ranking metric scores", "type": "nominal", "scale": {"domain": ["Enrichment profile", "Hits", "Ranking metric scores"], "range": ["#76f000", "#555555", "#d0d0d0"]},
                      "legend": {"orient": "none", "legendX": 28.5, "legendY": 77, "direction": "horizontal", "title": null, "symbolType": "stroke", "symbolSize": 80, "symbolStrokeWidth": 1.6, "labelFont": "DejaVu Sans", "labelFontSize": 5, "labelColor": "#222", "labelOffset": 1.5, "columnPadding": 4, "strokeColor": "#555", "padding": 1.5, "fillColor": "#ffffff"}}}},
         {"data": {"name": "ann2"}, "mark": {"type": "text", "align": "left", "baseline": "middle", "font": "DejaVu Sans", "fontSize": 4},
          "encoding": {"x": {"field": "rank", "type": "quantitative"}, "y": {"field": "metric", "type": "quantitative"}, "text": {"field": "label"},
           "color": {"field": "side", "type": "nominal", "scale": {"domain": ["pos", "zero", "neg"], "range": ["#d42424", "#111111", "#2a2aee"]}, "legend": null}}}
        ]
       }
      ]
     },
     {
      "bounds": "flush", "spacing": 0,
      "title": {"text": "NES -2.34, FDR 0.003", "orient": "bottom", "anchor": "start", "baseline": "top", "fontSize": 14, "offset": 13, "dx": 35},
      "resolve": {"scale": {"stroke": "independent", "color": "independent"}},
      "vconcat": [
       {
        "width": 220, "height": 95,
        "view": {"fill": "#e9e6d2"},
        "title": {"text": "Enrichment plot: HALLMARK_E2F_TARGETS", "anchor": "middle", "font": "DejaVu Sans", "fontSize": 7.7, "offset": -6, "dx": -1, "color": "#111"},
        "layer": [
         {"data": {"values": [{}]}, "mark": {"type": "rect", "fill": "#ffffff", "stroke": "#aaa", "strokeWidth": 0.8},
          "encoding": {
           "x": {"datum": 0, "type": "quantitative", "scale": {"domain": [0, 20520.6], "range": [28, 220], "nice": false, "zero": false}, "axis": null},
           "x2": {"datum": 20200},
           "y": {"datum": -0.15, "type": "quantitative", "scale": {"domain": [-0.15, 0.0292], "range": [95, 10], "nice": false, "zero": false},
                 "axis": {"values": [0.025,0,-0.025,-0.05,-0.075,-0.1,-0.125,-0.15], "tickCount": 200, "labelOverlap": false, "labelExpr": "format(datum.value, '.3f')", "offset": -28, "labelFont": "DejaVu Sans", "labelFontSize": 4, "labelColor": "#333", "tickSize": 2, "tickColor": "#666", "tickWidth": 0.5, "domain": false, "labelPadding": 1, "title": "Enrichment score (ES)", "titleFont": "DejaVu Sans", "titleFontSize": 4.5, "titleColor": "#444", "titlePadding": 2}},
           "y2": {"datum": 0.0292}}},
         {"data": {"values": [{}]}, "mark": {"type": "rule", "color": "#b5b5b5", "strokeWidth": 1.5},
          "encoding": {"x": {"datum": 0, "type": "quantitative", "axis": null}, "x2": {"datum": 20200}, "y": {"datum": 0, "type": "quantitative"}}},
         {"data": {"name": "es3"}, "mark": {"type": "line", "color": "#76f000", "strokeWidth": 1.8},
          "encoding": {"x": {"field": "rank", "type": "quantitative", "axis": null}, "y": {"field": "es", "type": "quantitative"}}}
        ]
       },
       {
        "width": 220, "height": 37,
        "view": {"fill": "#e9e6d2"},
        "layer": [
         {"data": {"values": [{}]}, "mark": {"type": "rect", "fill": "#ffffff", "stroke": "#aaa", "strokeWidth": 0.8},
          "encoding": {
           "x": {"datum": 0, "type": "quantitative", "scale": {"domain": [0, 20520.6], "range": [28, 220], "nice": false, "zero": false}, "axis": null},
           "x2": {"datum": 20200},
           "y": {"datum": 0, "type": "quantitative", "scale": {"domain": [0, 1], "nice": false}, "axis": null},
           "y2": {"datum": 1}}},
         {"data": {"values": [{}]}, "mark": {"type": "rect", "fill": {"gradient": "linear", "x1": 0, "y1": 0, "x2": 1, "y2": 0, "stops": [{"offset": 0, "color": "#c42c2c"}, {"offset": 0.15, "color": "#d04a4a"}, {"offset": 0.31, "color": "#e08484"}, {"offset": 0.315, "color": "#e0a0d8"}, {"offset": 0.49, "color": "#ecbce8"}, {"offset": 0.495, "color": "#d2d2f4"}, {"offset": 0.745, "color": "#a8a8ee"}, {"offset": 0.75, "color": "#6a6ae6"}, {"offset": 1, "color": "#1a10b8"}]}},
          "encoding": {"x": {"datum": 0, "type": "quantitative", "axis": null}, "x2": {"datum": 19150}, "y": {"datum": 0, "type": "quantitative", "axis": null}, "y2": {"datum": 0.22}}},
         {"data": {"name": "hits3"}, "mark": {"type": "rule", "color": "#000", "strokeWidth": 0.9, "opacity": 0.75},
          "encoding": {"x": {"field": "rank", "type": "quantitative", "axis": null}, "y": {"datum": 0.22, "type": "quantitative", "axis": null}, "y2": {"datum": 1}}}
        ]
       },
       {
        "width": 220, "height": 90,
        "view": {"fill": "#e9e6d2"},
        "layer": [
         {"data": {"values": [{}]}, "mark": {"type": "rect", "fill": "#ffffff", "stroke": "#aaa", "strokeWidth": 0.8},
          "encoding": {
           "x": {"datum": 0, "type": "quantitative", "scale": {"domain": [0, 20520.6], "range": [28, 220], "nice": false, "zero": false},
                 "axis": {"values": [0,2500,5000,7500,10000,12500,15000,17500,20000], "tickCount": 200, "labelOverlap": false, "labelExpr": "format(datum.value, ',')", "offset": -33, "labelFont": "DejaVu Sans", "labelFontSize": 4.3, "labelColor": "#333", "tickSize": 2, "tickColor": "#666", "tickWidth": 0.5, "domain": false, "labelPadding": 1, "labelFlush": false, "title": "Rank in Ordered Dataset", "titleFont": "DejaVu Sans", "titleFontSize": 5.2, "titleColor": "#333", "titlePadding": 1.5}},
           "x2": {"datum": 20200},
           "y": {"datum": -5.5, "type": "quantitative", "scale": {"domain": [-11.23, 4.4], "nice": false, "zero": false},
                 "axis": {"values": [2.5, 0, -2.5, -5], "tickCount": 200, "labelOverlap": false, "labelExpr": "format(datum.value, '.1f')", "offset": -28, "labelFont": "DejaVu Sans", "labelFontSize": 4.3, "labelColor": "#333", "tickSize": 2, "tickColor": "#666", "tickWidth": 0.5, "domain": false, "labelPadding": 1, "title": "Ranked list metric (Signal2Noise)", "titleY": 28.5, "titleFont": "DejaVu Sans", "titleFontSize": 4.6, "titleColor": "#444", "titlePadding": 2}},
           "y2": {"datum": 4.4}}},
         {"data": {"values": [{}]}, "mark": {"type": "rule", "color": "#999", "strokeWidth": 0.6, "strokeDash": [2, 2]},
          "encoding": {"x": {"datum": 7696, "type": "quantitative"}, "y": {"datum": -5.5, "type": "quantitative"}, "y2": {"datum": 4.4}}},
         {"data": {"name": "met3"}, "mark": {"type": "area", "fill": "#bdbdbd", "strokeWidth": 0.6},
          "encoding": {"x": {"field": "rank", "type": "quantitative"}, "y": {"field": "metric", "type": "quantitative"},
           "stroke": {"datum": "Ranking metric scores", "type": "nominal", "scale": {"domain": ["Enrichment profile", "Hits", "Ranking metric scores"], "range": ["#76f000", "#555555", "#d0d0d0"]},
                      "legend": {"orient": "none", "legendX": 27, "legendY": 77, "direction": "horizontal", "title": null, "symbolType": "stroke", "symbolSize": 80, "symbolStrokeWidth": 1.6, "labelFont": "DejaVu Sans", "labelFontSize": 5, "labelColor": "#222", "labelOffset": 1.5, "columnPadding": 4, "strokeColor": "#555", "padding": 1.5, "fillColor": "#ffffff"}}}},
         {"data": {"name": "ann3"}, "mark": {"type": "text", "align": "left", "baseline": "middle", "font": "DejaVu Sans", "fontSize": 4},
          "encoding": {"x": {"field": "rank", "type": "quantitative"}, "y": {"field": "metric", "type": "quantitative"}, "text": {"field": "label"},
           "color": {"field": "side", "type": "nominal", "scale": {"domain": ["pos", "zero", "neg"], "range": ["#d42424", "#111111", "#2a2aee"]}, "legend": null}}}
        ]
       }
      ]
     }
    ]
   }
  ]
 },
 {
  "width": 627, "height": 312,
  "title": {"text": "F", "dx": -63, "offset": -18},
  "data": {"name": "fpkm"},
  "layer": [
   {
    "mark": {"type": "bar", "stroke": "#000", "strokeWidth": 3},
    "encoding": {
     "x": {"field": "gene", "type": "nominal", "sort": null, "scale": {"domain": ["mki67","plk1","Bub1","FoxM1","TRIM71","Fos","Aurka","Bora"], "range": [29, 627], "paddingInner": 0.4, "paddingOuter": 0.22},
           "axis": {"title": null, "ticks": false, "labelAngle": 0, "labelFontSize": 19, "labelFontWeight": "bold", "labelColor": "#111", "labelPadding": 8, "domainWidth": 2.5, "domainColor": "#000", "labelOverlap": false,
                    "labelOffset": {"condition": {"test": "datum.value == 'TRIM71' || datum.value == 'Fos'", "value": 18}, "value": 5}}},
     "xOffset": {"field": "treatment", "type": "nominal", "sort": null, "scale": {"domain": ["STF","NOV+STF"], "paddingInner": 0, "paddingOuter": 0}},
     "y": {"field": "value", "type": "quantitative", "scale": {"domain": [0, 1], "range": [312, 24], "nice": false},
           "axis": {"values": [0, 0.5, 1], "tickCount": 200, "labelOverlap": false, "labelExpr": "datum.value == 0 ? '0' : format(datum.value, '.1f')", "offset": -29, "labelFontSize": 19, "labelColor": "#222", "tickSize": 5, "tickWidth": 2.5, "domainWidth": 2.5, "labelPadding": 3, "title": "Mean fold change in fpkm", "titleFontSize": 18, "titleFontWeight": "bold", "titleColor": "#000", "titlePadding": 12}},
     "fill": {"field": "treatment", "type": "nominal", "scale": {"domain": ["STF","NOV+STF"], "range": ["#ffffff","#000000"]},
              "legend": {"orient": "none", "legendX": 629, "legendY": 74, "title": null, "direction": "vertical", "symbolType": "M-0.88,-1H0.88V1H-0.88Z", "symbolSize": 625, "symbolStrokeColor": "#000", "symbolStrokeWidth": 3, "labelFontSize": 17, "labelColor": "#222", "labelOffset": 10, "rowPadding": 7, "labelBaseline": "alphabetic", "labelExpr": "datum.label == 'NOV+STF' ? ['NOV+', '\u00a0\u00a0STF'] : datum.label", "padding": 0, "encode": {"labels": {"update": {"dy": {"value": 6}}}}}}
    }
   },
   {
    "transform": [{"filter": "datum.upper != null"}],
    "mark": {"type": "rule", "color": "#555", "strokeWidth": 2},
    "encoding": {"x": {"field": "gene", "type": "nominal", "sort": null}, "xOffset": {"field": "treatment", "type": "nominal", "sort": null}, "y": {"field": "value", "type": "quantitative"}, "y2": {"field": "upper"}}
   },
   {
    "transform": [{"filter": "datum.upper != null"}],
    "mark": {"type": "tick", "color": "#555", "thickness": 2.5, "size": 8},
    "encoding": {"x": {"field": "gene", "type": "nominal", "sort": null}, "xOffset": {"field": "treatment", "type": "nominal", "sort": null}, "y": {"field": "upper", "type": "quantitative"}}
   }
  ]
 }
]
}
